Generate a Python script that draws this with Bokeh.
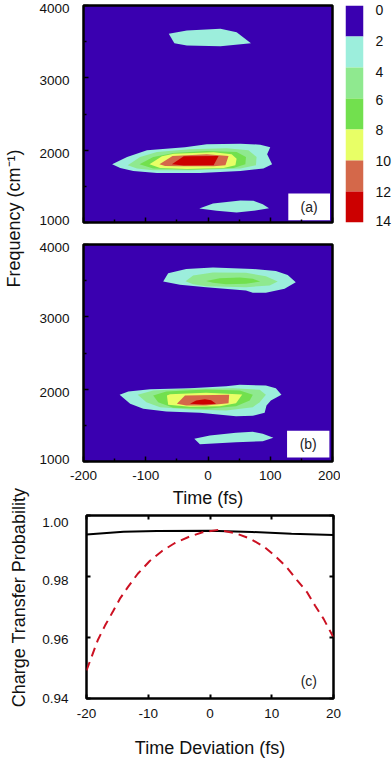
from bokeh.plotting import figure
from bokeh.layouts import column, row
from bokeh.models import FixedTicker, LinearAxis, Label, Range1d
from bokeh.core.properties import value
from bokeh.embed import file_html
from bokeh.resources import INLINE

FONT = "Liberation Sans"
LEVEL_COLORS = ["#3A00B0", "#9CEEDC", "#8FE98F", "#72E04E", "#E8FF66", "#D4684A", "#CC0000"]
LEVEL_LABELS = ["0", "2", "4", "6", "8", "10", "12", "14"]
CBAR_LABEL_POS = [0.16, 1.13, 2.16, 3.06, 4.03, 5.0, 6.0, 6.94]

T_TICKS = [-200, -100, 0, 100, 200]
T_MINOR = [-150, -50, 50, 150]
F_TICKS = [1000, 2000, 3000, 4000]
F_MINOR = [1500, 2500, 3500]
F_LABELS = ["1000", "2000", "3000", "4000"]
F_LABEL_POS_A = [1028, 1949, 2962, 3958]
F_LABEL_POS_B = [1028, 1958, 2972, 3961]
DEV_TICKS = [-20, -10, 0, 10, 20]
PROB_TICKS = [0.94, 0.96, 0.98, 1.0]
PROB_LABELS = ["0.94", "0.96", "0.98", "1.00"]
PROB_LABEL_POS = [0.9400, 0.9592, 0.9786, 0.9978]

# Panel (a): contour outlines, (time fs, frequency cm-1)
a_top_t = [-63, -34, 20, 46, 69, 20, -34, -54]
a_top_f = [3608, 3654, 3677, 3631, 3479, 3438, 3447, 3479]
a_low_t = [-14, 8, 52, 73, 88, 98, 73, 46, 14]
a_low_f = [1193, 1262, 1304, 1299, 1253, 1198, 1161, 1138, 1161]
a_l1_t = [-154, -130, -98, -37, -2, 52, 84, 100, 95, 103, 89, 52, -13, -82, -120, -141]
a_l1_f = [1805, 1906, 1998, 2040, 2081, 2090, 2076, 2040, 1943, 1805, 1745, 1713, 1685, 1685, 1713, 1754]
a_l2_t = [-129, -109, -82, -29, 30, 65, 78, 77, 52, -29, -88, -114]
a_l2_f = [1791, 1906, 1975, 2012, 2026, 1998, 1906, 1791, 1745, 1722, 1722, 1745]
a_l3_t = [-110, -88, -55, -2, 46, 61, 60, 41, -29, -88]
a_l3_f = [1805, 1906, 1961, 1989, 1975, 1906, 1805, 1754, 1731, 1745]
a_l4_t = [-94, -74, -55, 9, 38, 46, 44, 25, -34, -77]
a_l4_f = [1805, 1915, 1952, 1971, 1943, 1883, 1791, 1754, 1741, 1754]
a_l5_t = [-78, -57, -2, 33, 28, 9, -45, -69]
a_l5_f = [1805, 1920, 1943, 1920, 1791, 1777, 1777, 1782]
a_l6_t = [-58, -39, 17, 9, -39]
a_l6_f = [1805, 1915, 1920, 1791, 1787]

# Panel (b)
b_top1_t = [-72, -64, -35, 8, 72, 109, 128, 141, 123, 93, 72, 61, -3, -45]
b_top1_f = [3488, 3603, 3663, 3682, 3663, 3635, 3580, 3479, 3387, 3332, 3332, 3364, 3410, 3442]
b_top2_t = [-36, -24, 8, 61, 93, 112, 99, 61, -3, -24]
b_top2_f = [3493, 3571, 3613, 3608, 3562, 3488, 3433, 3410, 3424, 3451]
b_top3_t = [-3, 19, 51, 72, 84, 61, 29, 8]
b_top3_f = [3497, 3534, 3544, 3525, 3488, 3456, 3451, 3470]
b_low_t = [-22, 3, 45, 72, 88, 105, 88, 45, -13]
b_low_f = [1313, 1359, 1396, 1410, 1382, 1327, 1281, 1267, 1240]
b_l1_t = [-142, -128, -93, -29, 29, 51, 93, 109, 118, 101, 94, 91, 72, 45, -13, -67, -104, -125]
b_l1_f = [1922, 1968, 2000, 2014, 2041, 2060, 2051, 2014, 1922, 1843, 1774, 1673, 1631, 1627, 1673, 1691, 1728, 1797]
b_l2_t = [-113, -88, -29, 40, 83, 93, 83, 72, 29, -29, -77, -99]
b_l2_f = [1922, 1982, 2005, 2014, 1991, 1922, 1820, 1751, 1705, 1719, 1751, 1820]
b_l3_t = [-88, -67, -3, 51, 72, 67, 45, -3, -56, -80]
b_l3_f = [1912, 1968, 1995, 1982, 1922, 1843, 1765, 1728, 1742, 1820]
b_l4_t = [-66, -61, -3, 55, 45, 19, -29, -64]
b_l4_f = [1912, 1931, 1949, 1926, 1806, 1765, 1756, 1783]
b_l5_t = [-50, -37, 34, 33, -3, -35]
b_l5_f = [1797, 1912, 1922, 1806, 1774, 1774]
b_l6_t = [-29, -19, -5, 5, 13, -8]
b_l6_f = [1797, 1843, 1862, 1848, 1797, 1788]

# Panel (c)
c_black_x = [-20, -14, -8.6, 0, 6.8, 13.2, 20]
c_black_y = [0.9938, 0.9947, 0.9949, 0.9950, 0.9946, 0.9940, 0.9936]
c_red_x = [-20, -19.2, -18.2, -17, -15.7, -14.5, -13.3, -11.7, -9.8, -7.8, -5.75, -3.3, -1.2,
           1.38, 4.1, 6.5, 8.66, 10.55, 12.4, 14.05, 15.7, 17, 18.4, 20]
c_red_y = [0.9492, 0.9535, 0.9590, 0.9639, 0.9686, 0.9730, 0.9765, 0.9809, 0.9850, 0.9883, 0.9909, 0.9931, 0.9945,
           0.9953, 0.9942, 0.9924, 0.9899, 0.9867, 0.9831, 0.9789, 0.9749, 0.9705, 0.9661, 0.9600]

BOX_A = dict(left=129, right=196, bottom=1032, top=1400)
BOX_B = dict(left=127, right=195, bottom=1055, top=1424)


def hyphen_labels(ticks):
    return {t: str(t) for t in ticks}


def label_axis(p, positions, labels, standoff):
    """Left axis that only carries the tick texts, as they sit a little off their tick marks."""
    ax = LinearAxis(ticker=FixedTicker(ticks=positions),
                    major_label_overrides={k: v for k, v in zip(positions, labels)},
                    axis_line_color=None, major_tick_line_color=None, minor_tick_line_color=None,
                    major_tick_in=0, major_tick_out=0, minor_tick_in=0, minor_tick_out=0,
                    major_label_standoff=standoff, major_label_text_font=FONT,
                    major_label_text_font_size="13.5px", major_label_text_color="#111111")
    p.add_layout(ax, "left")


def marks_only(ax):
    ax.major_label_text_font_size = "0px"
    ax.major_label_text_color = None
    ax.major_label_standoff = 0


def contour_fig(polys, box, tag, show_x, f_pos, **kw):
    p = figure(x_range=Range1d(-200, 200), y_range=Range1d(1000, 4000), output_backend="svg",
               toolbar_location=None, frame_width=249, frame_height=217, min_border_left=47,
               background_fill_color=LEVEL_COLORS[0], border_fill_color="white", **kw)
    p.grid.visible = False
    p.outline_line_color = "black"
    p.outline_line_width = 2.5
    for lev, t, f in polys:
        p.patch(t, f, fill_color=LEVEL_COLORS[lev], line_color=None)
    p.quad(fill_color="white", line_color=None, **box)
    p.xaxis.ticker = FixedTicker(ticks=T_TICKS, minor_ticks=T_MINOR)
    p.yaxis.ticker = FixedTicker(ticks=F_TICKS, minor_ticks=F_MINOR)
    for ax in (p.xaxis[0], p.yaxis[0]):
        ax.axis_line_color = None
        ax.major_tick_in = 5
        ax.major_tick_out = 0
        ax.minor_tick_in = 3
        ax.minor_tick_out = 0
        ax.major_tick_line_width = 1.5
        ax.minor_tick_line_width = 1.5
    marks_only(p.yaxis[0])
    label_axis(p, f_pos, F_LABELS, 14)
    if show_x:
        p.xaxis.major_label_overrides = hyphen_labels(T_TICKS)
        p.xaxis.major_label_text_font = FONT
        p.xaxis.major_label_text_font_size = "13.5px"
        p.xaxis.major_label_text_color = "#111111"
        p.xaxis.axis_label = "Time (fs)"
        p.xaxis.axis_label_text_font = FONT
        p.xaxis.axis_label_text_font_style = "normal"
        p.xaxis.axis_label_text_font_size = "18px"
        p.xaxis.axis_label_text_color = "#111111"
        p.xaxis.axis_label_standoff = 5
        p.xaxis.major_label_standoff = 9
    else:
        marks_only(p.xaxis[0])
    p.text([(box["left"] + box["right"]) / 2], [(box["bottom"] + box["top"]) / 2], text=[tag],
           text_font=value(FONT), text_font_size="14px", text_align="center", text_baseline="middle",
           text_color="#222222")
    return p


pa = contour_fig([(1, a_top_t, a_top_f), (1, a_low_t, a_low_f), (1, a_l1_t, a_l1_f), (2, a_l2_t, a_l2_f),
                  (3, a_l3_t, a_l3_f), (4, a_l4_t, a_l4_f), (5, a_l5_t, a_l5_f), (6, a_l6_t, a_l6_f)],
                 BOX_A, "(a)", False, F_LABEL_POS_A, min_border_top=5, min_border_bottom=13, min_border_right=8)
pb = contour_fig([(1, b_top1_t, b_top1_f), (2, b_top2_t, b_top2_f), (3, b_top3_t, b_top3_f), (1, b_low_t, b_low_f),
                  (1, b_l1_t, b_l1_f), (2, b_l2_t, b_l2_f), (3, b_l3_t, b_l3_f), (4, b_l4_t, b_l4_f),
                  (5, b_l5_t, b_l5_f), (6, b_l6_t, b_l6_f)],
                 BOX_B, "(b)", True, F_LABEL_POS_B, min_border_top=9, min_border_bottom=49, min_border_right=8)

# Colour bar
cb = figure(x_range=Range1d(0, 1), y_range=Range1d(7, 0), output_backend="svg", toolbar_location=None,
            frame_width=18, frame_height=217, min_border_left=5, min_border_right=29,
            min_border_top=5, min_border_bottom=13, x_axis_location=None, y_axis_location="right")
cb.grid.visible = False
cb.outline_line_color = None
cb.quad(left=0, right=1, top=list(range(7)), bottom=list(range(1, 8)), fill_color=LEVEL_COLORS, line_color=None)
cb.yaxis.ticker = FixedTicker(ticks=CBAR_LABEL_POS)
cb.yaxis.major_label_overrides = {k: v for k, v in zip(CBAR_LABEL_POS, LEVEL_LABELS)}
cb.yaxis.axis_line_color = None
cb.yaxis.major_tick_line_color = None
cb.yaxis.minor_tick_line_color = None
cb.yaxis.major_tick_out = 0
cb.yaxis.major_tick_in = 0
cb.yaxis.major_label_standoff = 12
cb.yaxis.major_label_text_font = FONT
cb.yaxis.major_label_text_font_size = "14px"
cb.yaxis.major_label_text_color = "#111111"

# Left strip holding the rotated y labels, one of which spans panels (a) and (b)
lab = figure(width=36, height=756, x_range=Range1d(0, 36), y_range=Range1d(756, 0), output_backend="svg",
             toolbar_location=None, x_axis_location=None, y_axis_location=None,
             min_border=0, outline_line_color=None)
lab.grid.visible = False
lab.add_layout(Label(x=13, y=218, text="Frequency (cm\u207b\u00b9)", angle=90, angle_units="deg",
                     text_align="center", text_baseline="middle", text_font=FONT,
                     text_font_size="18px", text_color="#111111"))
lab.add_layout(Label(x=18, y=597, text="Charge Transfer Probability", angle=90, angle_units="deg",
                     text_align="center", text_baseline="middle", text_font=FONT,
                     text_font_size="18px", text_color="#111111"))

# Panel (c)
pc = figure(x_range=Range1d(-20, 20), y_range=Range1d(0.94, 1.0), output_backend="svg", toolbar_location=None,
            frame_width=247, frame_height=183, min_border_left=50, min_border_right=59,
            min_border_top=5, min_border_bottom=58)
pc.grid.visible = False
pc.outline_line_color = "black"
pc.outline_line_width = 2.5
pc.line(c_black_x, c_black_y, line_color="black", line_width=2)
pc.line(c_red_x, c_red_y, line_color="#CC1122", line_width=2, line_dash="9 6")
pc.text([16], [0.9458], text=["(c)"], text_font=value(FONT), text_font_size="14px", text_align="center",
        text_baseline="middle", text_color="#222222")
bottom_ax = pc.below[0]
left_ax = pc.left[0]
bottom_ax.ticker = FixedTicker(ticks=DEV_TICKS)
left_ax.ticker = FixedTicker(ticks=PROB_TICKS)
marks_only(left_ax)
bottom_ax.major_label_overrides = hyphen_labels(DEV_TICKS)
top_ax = LinearAxis(ticker=FixedTicker(ticks=DEV_TICKS))
right_ax = LinearAxis(ticker=FixedTicker(ticks=PROB_TICKS))
marks_only(top_ax)
marks_only(right_ax)
pc.add_layout(top_ax, "above")
pc.add_layout(right_ax, "right")
for ax in (bottom_ax, left_ax, top_ax, right_ax):
    ax.axis_line_color = None
    ax.major_tick_in = 4
    ax.major_tick_out = 0
    ax.minor_tick_line_color = None
    ax.major_tick_line_width = 2
label_axis(pc, PROB_LABEL_POS, PROB_LABELS, 18)
bottom_ax.major_label_text_font = FONT
bottom_ax.major_label_text_font_size = "13.5px"
bottom_ax.major_label_text_color = "#111111"
bottom_ax.axis_label = "Time Deviation (fs)"
bottom_ax.axis_label_text_font = FONT
bottom_ax.axis_label_text_font_style = "normal"
bottom_ax.axis_label_text_font_size = "18px"
bottom_ax.axis_label_text_color = "#111111"
bottom_ax.major_label_standoff = 10
bottom_ax.axis_label_standoff = 17

root = row(lab, column(row(pa, cb), row(pb), row(pc)))
open("out.html", "w").write(file_html(root, INLINE))
